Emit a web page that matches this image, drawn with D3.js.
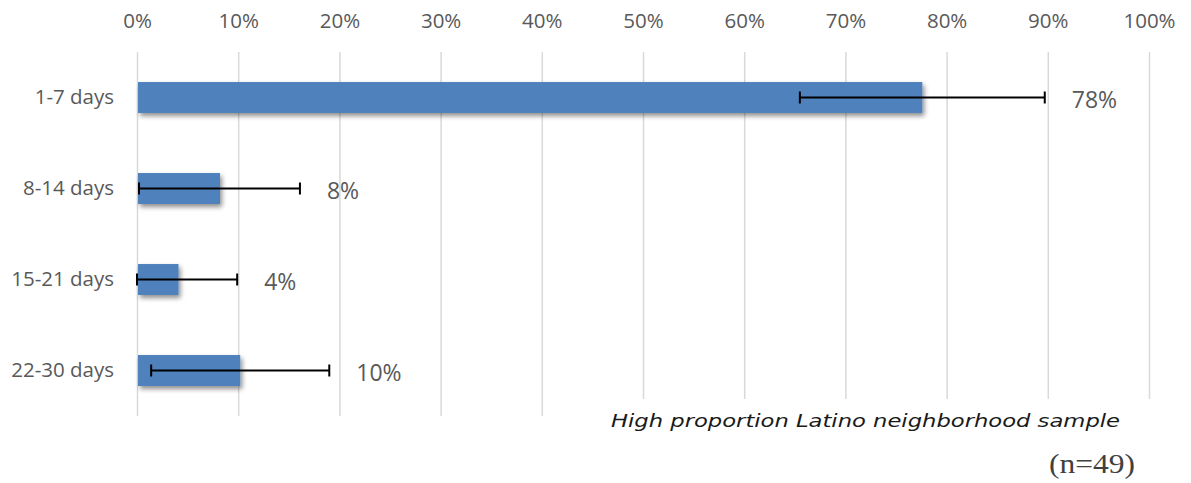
<!DOCTYPE html>
<html>
<head>
<meta charset="utf-8">
<script src="https://cdn.jsdelivr.net/npm/d3@7"></script>
<style>
  html, body { margin: 0; padding: 0; background: #fff; }
  svg { display: block; }
</style>
</head>
<body>
<svg id="chart" width="1191" height="483"></svg>
<script>
const categories = ["1-7 days", "8-14 days", "15-21 days", "22-30 days"];
const values = [0.776, 0.082, 0.041, 0.102];
const errLow = [0.655, 0.002, 0.0, 0.014];
const errHigh = [0.897, 0.161, 0.099, 0.190];
const valueLabels = ["78%", "8%", "4%", "10%"];
const tickValues = [0, 0.1, 0.2, 0.3, 0.4, 0.5, 0.6, 0.7, 0.8, 0.9, 1.0];
const subtitle = "High proportion Latino neighborhood sample";
const sampleNote = "(n=49)";

const svg = d3.select("#chart");

const defs = svg.append("defs");
const f = defs.append("filter").attr("id", "shadow")
  .attr("x", "-10%").attr("y", "-30%").attr("width", "130%").attr("height", "180%");
f.append("feGaussianBlur").attr("in", "SourceAlpha").attr("stdDeviation", 2.5).attr("result", "blur");
f.append("feOffset").attr("dx", 2).attr("dy", 3).attr("result", "off");
f.append("feComponentTransfer").append("feFuncA").attr("type", "linear").attr("slope", 0.45);
const m = f.append("feMerge");
m.append("feMergeNode");
m.append("feMergeNode").attr("in", "SourceGraphic");

const x = d3.scaleLinear().domain([0, 1]).range([137, 1149]);
const y = d3.scaleBand().domain(categories).range([52, 416]).paddingInner(0.66).paddingOuter(0.33);

const sans = "Open Sans, Noto Sans, sans-serif";

// gridlines
svg.append("g")
  .selectAll("line").data(tickValues).join("line")
  .attr("x1", d => x(d) + 0.5).attr("x2", d => x(d) + 0.5)
  .attr("y1", 52).attr("y2", 416)
  .attr("stroke", "#d9d9d9").attr("stroke-width", 1.5);

// top axis labels
const axis = d3.axisTop(x).tickValues(tickValues).tickFormat(d3.format(".0%")).tickSize(0).tickPadding(0);
const ax = svg.append("g").attr("transform", "translate(0,28)").call(axis);
ax.select(".domain").remove();
ax.selectAll("text")
  .attr("font-family", sans)
  .attr("font-size", 20.5).attr("fill", "#595959");

// category labels
const ay = d3.axisLeft(y).tickSize(0).tickPadding(0);
const gy = svg.append("g").attr("transform", "translate(114,0)").call(ay);
gy.select(".domain").remove();
gy.selectAll("text")
  .attr("font-family", sans)
  .attr("font-size", 20.5).attr("fill", "#595959").attr("dy", "0.32em");

// bars
svg.append("g")
  .selectAll("rect").data(categories).join("rect")
  .attr("x", x(0) + 1)
  .attr("y", d => y(d))
  .attr("width", (d, i) => x(values[i]) - x(0) - 1)
  .attr("height", y.bandwidth())
  .attr("fill", "#4f81bd")
  .attr("filter", "url(#shadow)");

// error bars
const eg = svg.append("g").attr("stroke", "#000").attr("stroke-width", 2);
categories.forEach((c, i) => {
  const cy = y(c) + y.bandwidth() / 2;
  eg.append("line").attr("x1", x(errLow[i])).attr("x2", x(errHigh[i])).attr("y1", cy).attr("y2", cy);
  eg.append("line").attr("x1", x(errLow[i])).attr("x2", x(errLow[i])).attr("y1", cy - 6).attr("y2", cy + 6);
  eg.append("line").attr("x1", x(errHigh[i])).attr("x2", x(errHigh[i])).attr("y1", cy - 6).attr("y2", cy + 6);
});

// value labels
svg.append("g")
  .selectAll("text").data(categories).join("text")
  .attr("x", (d, i) => x(errHigh[i]) + 27)
  .attr("y", d => y(d) + y.bandwidth() / 2 + 2)
  .attr("dy", "0.35em")
  .attr("font-family", sans)
  .attr("font-size", 23).attr("fill", "#595959")
  .text((d, i) => valueLabels[i]);

// subtitle text box (white fill covers gridlines)
svg.append("rect").attr("x", 600).attr("y", 399).attr("width", 560).attr("height", 40).attr("fill", "#fff");
svg.append("text")
  .attr("x", 611).attr("y", 427)
  .attr("font-family", "DejaVu Sans, Verdana, sans-serif")
  .attr("font-style", "italic")
  .attr("font-size", 17)
  .attr("textLength", 509).attr("lengthAdjust", "spacingAndGlyphs")
  .attr("fill", "#1a1a1a")
  .text(subtitle);

svg.append("text")
  .attr("x", 1135).attr("y", 473)
  .attr("text-anchor", "end")
  .attr("font-family", "Liberation Serif, DejaVu Serif, serif")
  .attr("font-size", 27)
  .attr("textLength", 86).attr("lengthAdjust", "spacingAndGlyphs")
  .attr("fill", "#404040")
  .text(sampleNote);
</script>
</body>
</html>
